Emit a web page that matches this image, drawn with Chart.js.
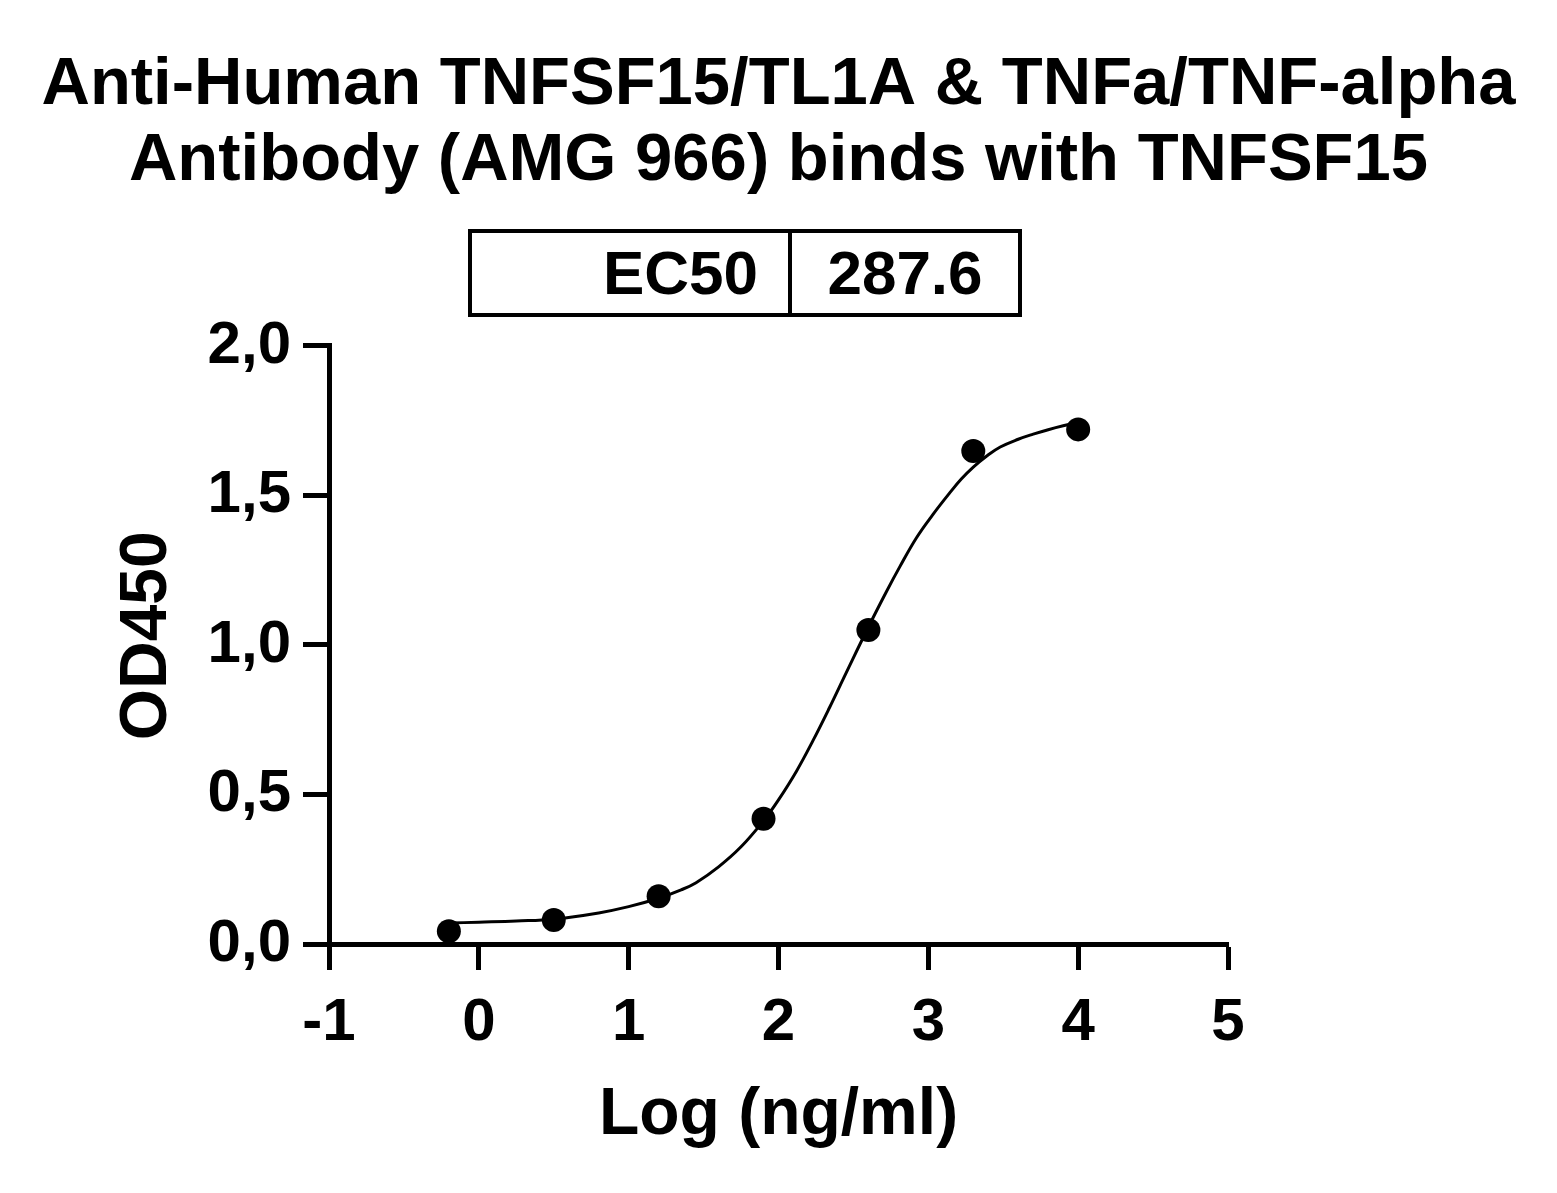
<!DOCTYPE html>
<html><head><meta charset="utf-8">
<script src="https://cdn.jsdelivr.net/npm/chart.js@4.4.1/dist/chart.umd.min.js"></script>
<style>
html,body{margin:0;padding:0;background:#fff;}
#wrap{position:relative;width:1557px;height:1193px;background:#fff;}
#ec50{position:absolute;left:468px;top:229px;width:554px;height:88px;box-sizing:border-box;border:4px solid #000;display:flex;font:bold 62px "Liberation Sans",Arial,sans-serif;color:#000;background:#fff}
#ec50 .k{width:320px;box-sizing:border-box;border-right:4px solid #000;text-align:right;padding-right:30px;line-height:80px}
#ec50 .v{flex:1;text-align:center;line-height:80px}
</style>
</head><body>
<div id="wrap">
<canvas id="c" width="1557" height="1193"></canvas>
<div id="ec50"><div class="k" id="ecK"></div><div class="v" id="ecV"></div></div>
</div>
<script>
// ---- data ----
const titleLines = ['Anti-Human TNFSF15/TL1A & TNFa/TNF-alpha', 'Antibody (AMG 966) binds with TNFSF15'];
const ec50Label = 'EC50';
const ec50Value = '287.6';
const xTitle = 'Log (ng/ml)';
const yTitle = ' OD450';
const xTickValues = [-1, 0, 1, 2, 3, 4, 5];
const xTickLabels = ['-1', '0', '1', '2', '3', '4', '5'];
const yTickValues = [0, 0.5, 1, 1.5, 2];
const yTickLabels = ['0,0', '0,5', '1,0', '1,5', '2,0'];
// measured points
const pointX = [-0.2, 0.5, 1.2, 1.9, 2.6, 3.3, 4.0];
const pointY = [0.043, 0.080, 0.160, 0.419, 1.050, 1.649, 1.721];
// fitted curve
const curveX = [-0.2, 0.0, 0.25, 0.5, 0.8, 1.0, 1.2, 1.35, 1.45, 1.6, 1.75, 1.9, 2.0, 2.12, 2.23, 2.34, 2.45, 2.6, 2.72, 2.81, 2.92, 3.03, 3.14, 3.22, 3.3, 3.39, 3.48, 3.6, 3.7, 3.8, 3.9, 4.0];
const curveY = [0.070, 0.073, 0.077, 0.083, 0.104, 0.125, 0.153, 0.181, 0.205, 0.258, 0.325, 0.412, 0.482, 0.578, 0.680, 0.790, 0.905, 1.060, 1.178, 1.262, 1.358, 1.436, 1.507, 1.555, 1.595, 1.632, 1.662, 1.688, 1.705, 1.720, 1.733, 1.744];

document.getElementById('ecK').textContent = ec50Label;
document.getElementById('ecV').textContent = ec50Value;

const FONT = '"Liberation Sans", Arial, Helvetica, sans-serif';
const pts = pointX.map((x, i) => ({x: x, y: pointY[i]}));
const crv = curveX.map((x, i) => ({x: x, y: curveY[i]}));

new Chart(document.getElementById('c'), {
  type: 'scatter',
  data: {
    datasets: [
      {
        type: 'line', data: crv, borderColor: '#000', borderWidth: 3,
        pointRadius: 0, fill: false, tension: 0.4, clip: false, order: 2
      },
      {
        type: 'scatter', data: pts, backgroundColor: '#000', borderColor: '#000',
        pointRadius: 12, pointHoverRadius: 12, borderWidth: 0, clip: false, order: 1
      }
    ]
  },
  options: {
    responsive: false,
    animation: false,
    events: [],
    layout: { padding: 0 },
    plugins: {
      legend: { display: false },
      tooltip: { enabled: false },
      title: {
        display: true,
        text: titleLines,
        color: '#000',
        font: { family: FONT, size: 67, weight: 'bold', lineHeight: 1.134 },
        padding: { top: 48, bottom: 146 }
      }
    },
    scales: {
      x: {
        type: 'linear', min: -1, max: 5,
        afterFit: (s) => { s.height = 249; },
        afterBuildTicks: (s) => { s.ticks = xTickValues.map(v => ({value: v})); },
        border: { display: true, width: 5, color: '#000' },
        grid: { display: true, drawOnChartArea: false, drawTicks: true, tickLength: 26, tickWidth: 5, tickColor: '#000' },
        ticks: {
          color: '#000', padding: 17, maxRotation: 0,
          font: { family: FONT, size: 60, weight: 'bold' },
          callback: (v) => { const i = xTickValues.indexOf(v); return i >= 0 ? xTickLabels[i] : ''; }
        },
        title: {
          display: true, text: xTitle, color: '#000',
          font: { family: FONT, size: 66, weight: 'bold', lineHeight: 1.2 },
          padding: { top: 0, bottom: 38 }
        }
      },
      y: {
        type: 'linear', min: 0, max: 2,
        afterFit: (s) => { s.width = 329; },
        afterBuildTicks: (s) => { s.ticks = yTickValues.map(v => ({value: v})); },
        border: { display: true, width: 5, color: '#000' },
        grid: { display: true, drawOnChartArea: false, drawTicks: true, tickLength: 26, tickWidth: 5, tickColor: '#000' },
        ticks: {
          color: '#000', padding: 12,
          font: { family: FONT, size: 60, weight: 'bold' },
          callback: (v) => { const i = yTickValues.indexOf(v); return i >= 0 ? yTickLabels[i] : ''; }
        },
        title: {
          display: true, text: yTitle, color: '#000',
          font: { family: FONT, size: 66, weight: 'bold', lineHeight: 1.2 },
          padding: { top: 108, bottom: 0 }
        }
      },
      yRightSpace: {
        type: 'linear', position: 'right', display: true,
        afterFit: (s) => { s.width = 329; },
        border: { display: false },
        grid: { display: false },
        ticks: { display: false }
      }
    }
  }
});
</script>
</body></html>
